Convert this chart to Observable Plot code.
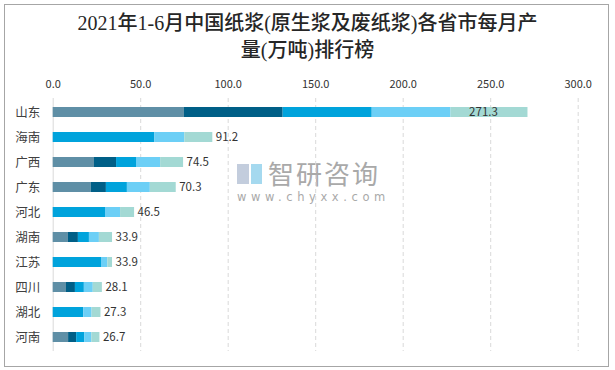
<!DOCTYPE html>
<html><head><meta charset="utf-8">
<script src="https://cdn.jsdelivr.net/npm/d3@7"></script>
<script src="https://cdn.jsdelivr.net/npm/@observablehq/plot@0.6"></script>
<style>
html,body{margin:0;padding:0;background:#fff;}
#frame{position:absolute;left:4px;top:4px;width:603px;height:361px;border:1.5px solid #a6a6a6;box-sizing:content-box;}
#title{position:absolute;left:0;top:10px;width:615px;text-align:center;font-family:"Liberation Serif","Noto Sans CJK SC",serif;font-size:20px;font-weight:500;line-height:27px;color:#262626;}
#chart{position:absolute;left:0;top:62px;}
#wm{position:absolute;left:237px;top:158px;color:#a9a9a9;font-family:"Noto Sans CJK SC",sans-serif;}
#wm .cn{position:absolute;left:31px;top:0;font-size:26px;line-height:30px;white-space:nowrap;letter-spacing:2px;}
#wm .en{position:absolute;left:0;top:32px;font-size:11.5px;line-height:14px;white-space:nowrap;letter-spacing:4.6px;font-family:"DejaVu Sans",sans-serif;}
#wm .l1{position:absolute;left:0;top:6px;width:12px;height:20px;background:#c3cddd;}
#wm .l2{position:absolute;left:14px;top:6px;width:11px;height:20px;background:#a5d9ef;}
</style></head>
<body>
<div id="frame"></div>
<div id="title">2021年1-6月中国纸浆(原生浆及废纸浆)各省市每月产<br>量(万吨)排行榜</div>
<div id="wm"><div class="l1"></div><div class="l2"></div><div class="cn">智研咨询</div><div class="en">www.chyxx.com</div></div>
<div id="chart"></div>
<script>
const provinces = ["山东","海南","广西","广东","河北","湖南","江苏","四川","湖北","河南"];
const months = ["1-2月","3月","4月","5月","6月"];
const m12 = [75.0, 0, 23.6, 21.7, 0, 8.7, 0, 7.6, 0, 8.8];
const m3  = [56.4, 0, 12.6, 8.7, 0, 5.7, 0, 5.1, 0, 4.6];
const m4  = [50.9, 58.1, 11.4, 12.0, 29.9, 6.3, 27.6, 5.1, 17.5, 4.6];
const m5  = [45.0, 17.1, 13.8, 13.1, 8.6, 5.7, 3.6, 5.1, 4.7, 4.1];
const m6  = [44.0, 16.0, 13.1, 14.8, 8.0, 7.5, 2.7, 5.2, 5.1, 4.6];
const totals = [271.3, 91.2, 74.5, 70.3, 46.5, 33.9, 33.9, 28.1, 27.3, 26.7];
const xTicks = [0, 50, 100, 150, 200, 250, 300];
const colors = ["#5f8fa6","#005f87","#00a3dc","#6ccff6","#a3d9d4"];

const series = [m12, m3, m4, m5, m6];
const rows = [];
provinces.forEach((p, i) => {
  series.forEach((s, j) => rows.push({province: p, month: months[j], value: s[i]}));
});
const labels = provinces.map((p, i) => {
  const inside = totals[i] > 250;
  return {province: p, total: totals[i], x: inside ? totals[i] - m6[i] / 2 : totals[i], inside};
});

const chart = Plot.plot({
  width: 615,
  height: 294,
  marginLeft: 52.7,
  marginRight: 37.3,
  marginTop: 36,
  marginBottom: 5,
  style: {fontFamily: "'Noto Sans CJK SC', sans-serif", fontSize: "11px", color: "#333"},
  x: {domain: [0, 300], axis: null},
  y: {domain: provinces, paddingInner: 0.6, paddingOuter: 0.3, axis: null},
  color: {domain: months, range: colors},
  marks: [
    Plot.ruleX(xTicks.filter(d => d > 0), {stroke: "#d9d9d9", strokeDasharray: "4,3", strokeWidth: 1}),
    Plot.ruleX([0], {stroke: "#d9d9d9", strokeWidth: 1}),
    Plot.axisX({anchor: "top", ticks: xTicks, tickSize: 0, tickPadding: 11, tickFormat: d => d.toFixed(1), fontSize: 11, fill: "#333", label: null}),
    Plot.axisY({anchor: "left", tickSize: 0, tickPadding: 13, fontSize: 12.5, fill: "#404040", label: null}),
    Plot.barX(rows, Plot.stackX({x: "value", y: "province", fill: "month", order: null})),
    Plot.text(labels.filter(d => !d.inside), {x: "x", y: "province", text: d => d.total.toFixed(1), textAnchor: "start", dx: 3, fill: "#333", fontSize: 11.5}),
    Plot.text(labels.filter(d => d.inside), {x: "x", y: "province", text: d => d.total.toFixed(1), textAnchor: "middle", dx: -6, fill: "#333", fontSize: 11.5})
  ]
});
document.getElementById("chart").appendChild(chart);
</script>
</body></html>
